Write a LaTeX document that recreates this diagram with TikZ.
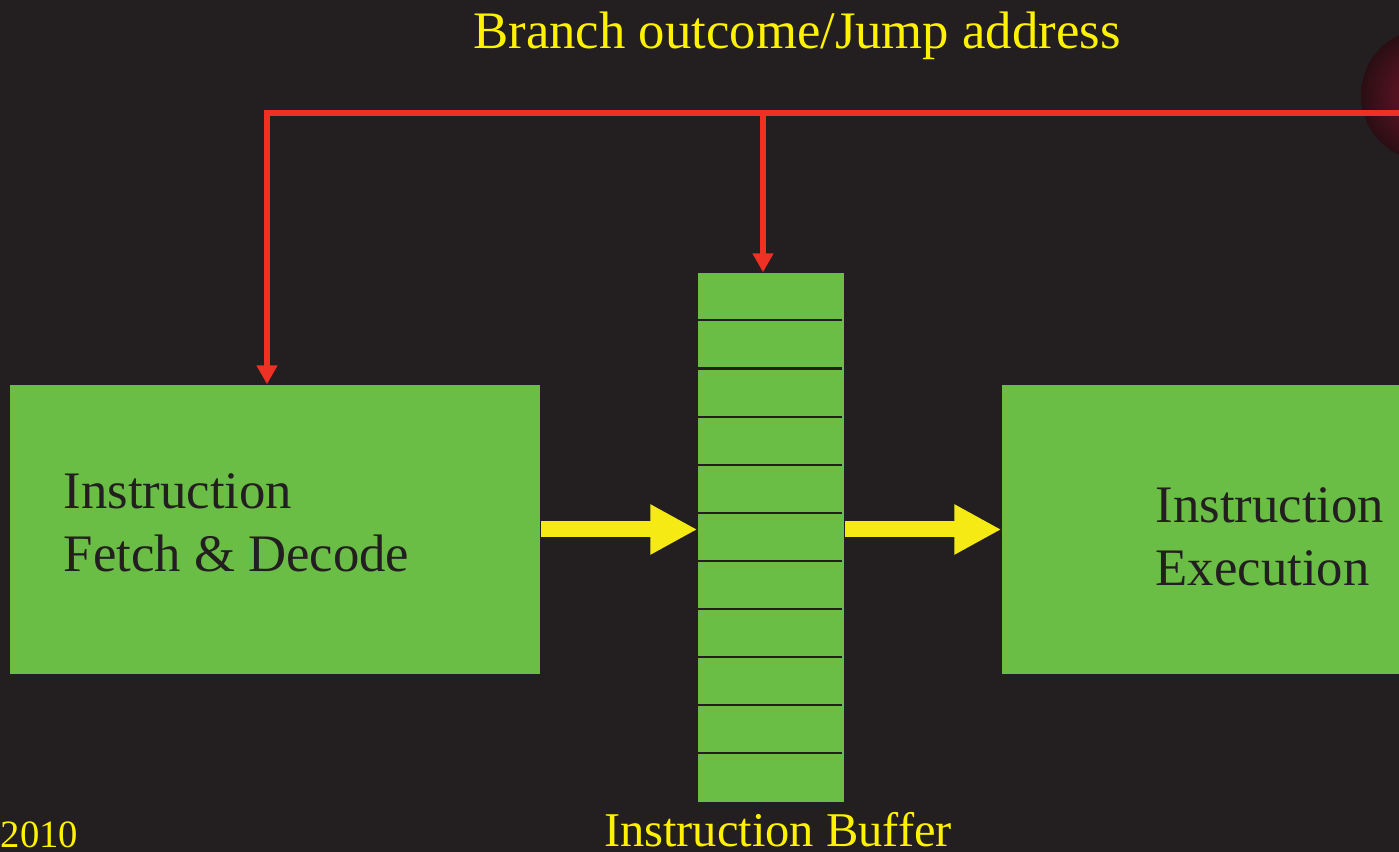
\documentclass[tikz,border=0pt]{standalone}
\usepackage{fontspec}
\setmainfont{Liberation Serif}
\usetikzlibrary{positioning,arrows.meta}

\definecolor{slide}{RGB}{35,31,32}
\definecolor{stagegreen}{RGB}{106,189,69}
\definecolor{busred}{RGB}{238,49,36}
\definecolor{labelyellow}{RGB}{255,242,0}
\definecolor{flowyellow}{RGB}{245,234,20}
\definecolor{orbin}{RGB}{118,22,42}
\definecolor{orbout}{RGB}{42,14,20}

\begin{document}
\begin{tikzpicture}[
  stage/.style={rectangle, fill=stagegreen, inner sep=0pt},
  stagetext/.style={font=\fontsize{15}{17.8}\selectfont, text=slide, align=left, inner sep=0pt},
  lbl/.style={text=labelyellow, inner sep=0pt},
  bus/.style={draw=busred, line width=1.7pt},
  busarr/.style={bus, -{Triangle[length=0.19cm, width=0.2cm]}},
  flow/.style={draw=flowyellow, line width=0.16cm, -{Triangle[length=0.47cm, width=0.47cm]}},
  slot/.style={draw=slide, line width=0.6pt}
]
  \clip (0,0) rectangle (13.99,-8.52);
  \fill[slide] (0,0) rectangle (13.99,-8.52);

  % glowing orb at the top right corner
  \shade[inner color=orbin, outer color=orbout] (14.27,-0.95) circle (0.66);

  % pipeline stages
  \node[stage, minimum width=5.30cm, minimum height=2.89cm] (fetch) at (2.75,-5.295) {};
  \node[stage, minimum width=1.46cm, minimum height=5.29cm] (buffer) at (7.71,-5.375) {};
  \node[stage, minimum width=4.60cm, minimum height=2.89cm] (exec) at (12.32,-5.295) {};

  \foreach \i in {1,...,10}
    \draw[slot] ([xshift=0.01cm, yshift=-0.481cm*\i]buffer.north west) -- ++(1.44,0);

  \node[stagetext, anchor=north west] (fetchtxt) at (0.63,-4.73) {Instruction\\Fetch \& Decode};
  \node[stagetext, anchor=north west] (exectxt) at (11.55,-4.87) {Instruction\\Execution};

  % instruction flow
  \draw[flow] (fetch.east) -- (buffer.west |- fetch.east);
  \draw[flow] (buffer.east |- exec.west) -- (exec.west);

  % branch feedback bus
  \coordinate (busend) at (14.6,-1.13);
  \coordinate (jmp) at (2.67,-1.13);
  \coordinate (tap) at (7.63,-1.13);
  \draw[busarr] (busend) -- (jmp) -- (jmp |- fetch.north);
  \draw[busarr] (tap) -- (tap |- buffer.north);

  % labels
  \node[lbl, font=\fontsize{15}{18}\selectfont, anchor=base] (title) at (7.97,-0.49) {Branch outcome/Jump address};
  \node[lbl, font=\fontsize{13.8}{16}\selectfont, below=0.09cm of buffer, xshift=0.07cm] (buflbl) {Instruction Buffer};
  \node[lbl, font=\fontsize{11}{13}\selectfont, anchor=base west] (year) at (0,-8.48) {2010};
\end{tikzpicture}
\end{document}
